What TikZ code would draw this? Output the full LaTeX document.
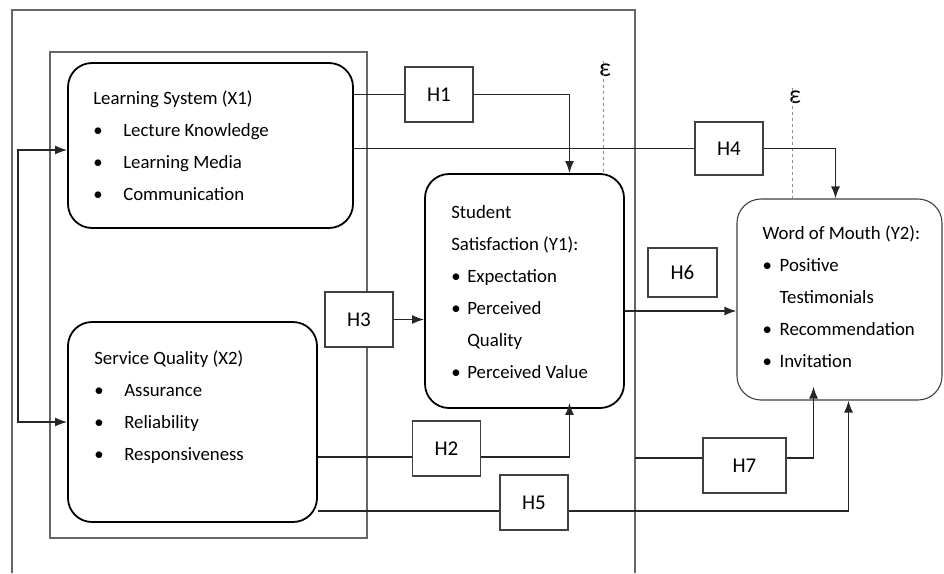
\documentclass[tikz,border=0pt]{standalone}
\usepackage{fontspec}
\setmainfont{Carlito}
\usetikzlibrary{arrows.meta,positioning}

\begin{document}
\begin{tikzpicture}[x=1pt, y=-1pt, >={Latex[length=12pt,width=9pt]},
  var/.style={draw=black, line width=1.8pt, rounded corners=24pt, fill=white, inner sep=0pt},
  wom/.style={draw=black!75, line width=1.1pt, rounded corners=24pt, fill=white, inner sep=0pt},
  hyp/.style={draw=black!75, line width=1.1pt, fill=white, inner sep=0pt, font=\fontsize{21}{24}\selectfont},
  txt/.style={anchor=north west, inner sep=0pt, align=left, font=\fontsize{18.8}{32}\selectfont},
  link/.style={draw=black!85, line width=1.4pt},
  frame/.style={draw=black!60, line width=1.3pt},
  eps/.style={draw=black!45, dashed, line width=0.9pt}]
\useasboundingbox (0,0) rectangle (944,573);
\draw [frame] (12,573) -- (12,10) -- (635,10) -- (635,573) ;
\draw [frame] (50,52) rectangle (367,538) ;
\coordinate (R) at (635,458) ;
\node[var, minimum width=285pt, minimum height=165pt] (ls) at (210.5,145.5) {};
\node[var, minimum width=249pt, minimum height=200pt] (sq) at (192.5,422) {};
\node[var, minimum width=199pt, minimum height=234pt] (ss) at (524.5,291) {};
\node[wom, minimum width=205pt, minimum height=201pt] (wm) at (839.5,299.5) {};
\node[txt] (lst) at ([shift={(26,28)}]ls.north west) {Learning System (X1)\\
  \makebox[30pt][l]{\textbullet}Lecture Knowledge\\
  \makebox[30pt][l]{\textbullet}Learning Media\\
  \makebox[30pt][l]{\textbullet}Communication};
\node[txt] (sqt) at ([shift={(27,29)}]sq.north west) {Service Quality (X2)\\
  \makebox[30pt][l]{\textbullet}Assurance\\
  \makebox[30pt][l]{\textbullet}Reliability\\
  \makebox[30pt][l]{\textbullet}Responsiveness};
\node[txt] (sst) at ([shift={(27,32)}]ss.north west) {Student\\
  Satisfaction (Y1):\\
  \makebox[16pt][l]{\textbullet}Expectation\\
  \makebox[16pt][l]{\textbullet}Perceived\\
  \hspace*{16pt}Quality\\
  \makebox[16pt][l]{\textbullet}Perceived Value};
\node[txt] (wmt) at ([shift={(26,27)}]wm.north west) {Word of Mouth (Y2):\\
  \makebox[17pt][l]{\textbullet}Positive\\
  \hspace*{17pt}Testimonials\\
  \makebox[17pt][l]{\textbullet}Recommendation\\
  \makebox[17pt][l]{\textbullet}Invitation};
\node[hyp, minimum width=68pt, minimum height=55pt] (h1) at (439,94.5) {H1};
\node[hyp, minimum width=68pt, minimum height=55pt] (h2) at (446.5,448.5) {H2};
\node[hyp, minimum width=68pt, minimum height=55pt] (h3) at (359,319.5) {H3};
\node[hyp, minimum width=68pt, minimum height=53pt] (h4) at (729,148.5) {H4};
\node[hyp, minimum width=68pt, minimum height=55pt] (h5) at (534,502.5) {H5};
\node[hyp, minimum width=69pt, minimum height=49pt] (h6) at (682.5,272.5) {H6};
\node[hyp, minimum width=83pt, minimum height=55pt] (h7) at (744.5,465.5) {H7};
\node[font=\fontsize{26}{26}\selectfont, inner sep=0pt] (e1) at (605,70) {ε};
\node[font=\fontsize{26}{26}\selectfont, inner sep=0pt] (e2) at (795,97) {ε};
\draw [eps] ([shift={(-2,-16)}]e1.south) -- ([xshift=-2pt]e1 |- ss.north) ;
\draw [eps] ([shift={(-3,-16)}]e2.south) -- ([xshift=-3pt]e2 |- wm.north) ;
\draw [link] (h1.west -| ls.east) -- (h1.west) ;
\draw [link, ->] (h1.east) -| ([xshift=45pt]ss.north) ;
\draw [link] (h4.west -| ls.east) -- (h4.west) ;
\draw [link, ->] (h4.east) -| ([xshift=-4pt]wm.north) ;
\draw [link, ->] (h3.east) -- (h3.east -| ss.west) ;
\draw [link, ->] ([yshift=-20pt]ss.east) -- ([yshift=-20pt]ss.east -| wm.west) ;
\draw [link] ([yshift=-8.5pt]h2.west -| sq.east) -- ([yshift=-8.5pt]h2.west) ;
\draw [link, ->] ([yshift=-8.5pt]h2.east) -| ([shift={(45,-6)}]ss.south) ;
\draw [link] ([yshift=-8.5pt]h5.west -| sq.east) -- ([yshift=-8.5pt]h5.west) ;
\draw [link, ->] ([yshift=-8.5pt]h5.east) -| ([xshift=9pt]wm.south) ;
\draw [link] (R) -- ([yshift=7.5pt]h7.west) ;
\draw [link, ->] ([yshift=7.5pt]h7.east) -| ([shift={(-26,-14)}]wm.south) ;
\draw [link, <->] ([yshift=-4.5pt]ls.west) -- ++(-49,0) |- (sq.west) ;
\end{tikzpicture}
\end{document}
